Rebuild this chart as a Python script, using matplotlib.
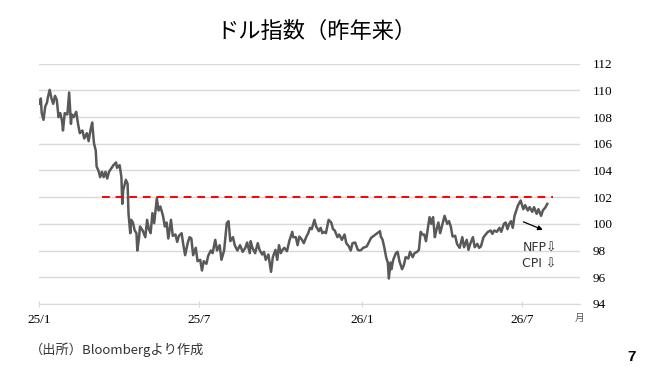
import matplotlib
matplotlib.use("Agg")
import matplotlib.pyplot as plt

# Dollar index, days counted from 2025-01-01
day = [1, 2, 3, 5, 7, 9, 10, 12, 14, 16, 18, 20, 22, 24, 26, 27, 29, 32, 34, 36,
       37, 39, 42, 44, 46, 49, 51, 54, 56, 58, 60, 62, 64, 65, 67, 69, 71, 73, 75, 77,
       79, 82, 84, 87, 88, 91, 93, 94, 95, 98, 100, 101, 103, 104, 106, 108, 110, 111, 113, 114,
       117, 120, 122, 124, 126, 128, 130, 133, 135, 137, 140, 142, 144, 146, 149, 151, 154, 156, 158, 161,
       163, 165, 168, 170, 172, 174, 177, 179, 182, 184, 186, 189, 191, 194, 196, 199, 201, 204, 206, 209,
       212, 214, 216, 219, 221, 224, 227, 230, 233, 235, 238, 239, 241, 244, 247, 249, 252, 254, 256, 259,
       262, 264, 267, 269, 271, 273, 275, 277, 280, 283, 286, 287, 290, 292, 294, 297, 299, 302, 304, 306,
       308, 311, 313, 316, 318, 320, 322, 324, 327, 330, 332, 334, 337, 339, 342, 345, 347, 350, 352, 354,
       357, 360, 362, 364, 366, 370, 372, 375, 377, 380, 382, 385, 386, 388, 390, 392, 394, 395, 397, 398,
       400, 403, 405, 407, 410, 412, 414, 417, 419, 422, 424, 427, 429, 431, 433, 435, 437, 439, 441, 443,
       445, 447, 449, 451, 453, 456, 458, 461, 463, 465, 467, 470, 472, 475, 478, 480, 483, 485, 487, 490,
       492, 495, 497, 499, 502, 505, 507, 510, 512, 514, 517, 520, 522, 525, 527, 529, 531, 533, 535, 537,
       539, 541, 544, 545, 547, 549, 552, 554, 557, 559, 562, 564, 567, 569, 572, 574]
value = [109.0, 109.4, 108.3, 107.8, 108.8, 109.1, 109.5, 110.05, 109.4, 109.0, 109.6, 109.3, 108.0, 108.3, 107.7, 107.0, 108.3, 108.2, 109.85, 107.5,
         108.2, 108.0, 108.4, 107.5, 106.8, 107.0, 106.4, 106.8, 106.2, 107.0, 107.6, 106.05, 105.5, 104.3, 104.0, 103.5, 103.9, 103.5, 103.9, 103.4,
         103.9, 104.2, 104.4, 104.6, 104.2, 104.4, 103.5, 101.5, 102.5, 103.3, 103.0, 100.8, 99.3, 100.3, 100.1, 99.5, 99.3, 98.0, 99.0, 99.8,
         99.5, 99.0, 100.3, 99.6, 99.3, 100.8, 100.05, 101.9, 101.0, 101.3, 100.6, 99.8, 100.1, 98.9, 100.3, 99.1, 99.2, 98.65, 99.1, 99.3,
         98.4, 97.65, 98.6, 99.0, 98.9, 97.65, 98.2, 97.2, 97.3, 96.5, 97.2, 97.0, 97.6, 98.0, 97.8, 98.8, 98.0, 98.4, 97.3, 98.0,
         100.05, 100.2, 98.7, 99.0, 98.4, 98.0, 98.4, 97.9, 98.2, 98.6, 97.8, 98.7, 98.2, 97.8, 98.55, 98.05, 97.7, 97.9, 97.3, 97.7,
         96.4, 97.5, 98.05, 97.3, 98.4, 97.8, 98.05, 98.2, 97.95, 98.8, 99.4, 99.0, 99.0, 98.4, 99.05, 98.8, 98.55, 99.05, 99.3, 99.7,
         99.6, 100.3, 99.8, 99.45, 99.7, 99.3, 99.4, 99.3, 100.3, 100.1, 99.6, 99.5, 99.0, 99.2, 98.8, 99.2, 98.55, 98.3, 98.0, 98.55,
         98.6, 98.05, 98.0, 98.05, 98.2, 98.3, 98.55, 98.95, 99.05, 99.2, 99.3, 99.45, 99.05, 98.8, 98.2, 97.5, 97.05, 95.9, 97.1, 96.6,
         97.3, 97.8, 97.9, 97.2, 96.6, 96.9, 97.5, 97.4, 97.9, 97.5, 97.8, 97.9, 98.05, 99.4, 99.2, 99.2, 98.7, 99.6, 100.5, 100.0,
         100.5, 99.0, 99.6, 100.1, 99.3, 100.1, 100.6, 100.0, 100.2, 99.8, 99.05, 99.1, 98.5, 98.2, 99.0, 98.25, 98.8, 98.05, 98.5, 99.0,
         98.25, 98.5, 98.2, 98.3, 99.0, 99.25, 99.4, 99.5, 99.25, 99.5, 99.4, 99.7, 99.4, 100.0, 100.1, 99.6, 100.0, 100.2, 99.7, 100.6,
         101.0, 101.4, 101.75, 101.5, 101.1, 101.4, 101.0, 101.25, 100.9, 101.25, 100.75, 101.1, 100.6, 101.0, 101.25, 101.5]

tick_days = [0, 181, 365, 546]
tick_labels = ["25/1", "25/7", "26/1", "26/7"]
yticks = [94, 96, 98, 100, 102, 104, 106, 108, 110, 112]

level = 102            # red dashed reference line
level_span = [71, 580]
arrow_from = (547, 100.15)
arrow_to = (569, 99.55)

fig = plt.figure(figsize=(6.51, 3.71), dpi=100)
ax = fig.add_axes([0.06, 0.181, 0.831, 0.647])

ax.plot(day, value, color="#595959", lw=1.8)
ax.plot(level_span, [level, level], color="#ff0000", lw=1.4, ls=(0, (4, 3)))

ax.annotate("", xy=arrow_to, xytext=arrow_from,
            arrowprops=dict(arrowstyle="-|>", color="black", lw=0.9,
                            mutation_scale=7, shrinkA=0, shrinkB=0))
ax.text(546, 98.15, "NFP\u21e9", fontsize=9, family=["DejaVu Sans"],
        color="#333333", va="center")
ax.text(546, 96.95, "CPI \u21e9", fontsize=9, family=["DejaVu Sans"],
        color="#333333", va="center")

ax.set_xlim(0, 611)
ax.set_ylim(94, 112)
ax.set_yticks(yticks)
ax.set_xticks(tick_days)
ax.set_xticklabels(tick_labels)
ax.yaxis.tick_right()
ax.grid(axis="y", color="#d9d9d9", lw=1)
ax.set_axisbelow(True)
for s in ["top", "left", "right"]:
    ax.spines[s].set_visible(False)
ax.spines["bottom"].set_color("#d9d9d9")
ax.tick_params(axis="y", length=0, pad=9, labelsize=9.5)
ax.tick_params(axis="x", length=4, direction="inout", color="#d9d9d9",
               pad=5, labelsize=9.5)
for lab in ax.get_xticklabels() + ax.get_yticklabels():
    lab.set_family("Liberation Serif")

fig.text(0.891, 0.143, "月", fontsize=7, color="#595959",
         family=["Noto Sans CJK JP"], ha="center", va="center")
fig.text(0.486, 0.915, "ドル指数（昨年来）", fontsize=16,
         family=["Noto Sans CJK JP"], ha="center", va="center")
fig.text(0.046, 0.057, "（出所）Bloombergより作成", fontsize=9.5,
         family=["Noto Sans CJK JP"], color="#333333", va="center")
fig.text(0.977, 0.038, "7", fontsize=11, fontweight="bold",
         family=["Liberation Sans"], ha="right", va="center")

fig.savefig("out.png", dpi=100)
